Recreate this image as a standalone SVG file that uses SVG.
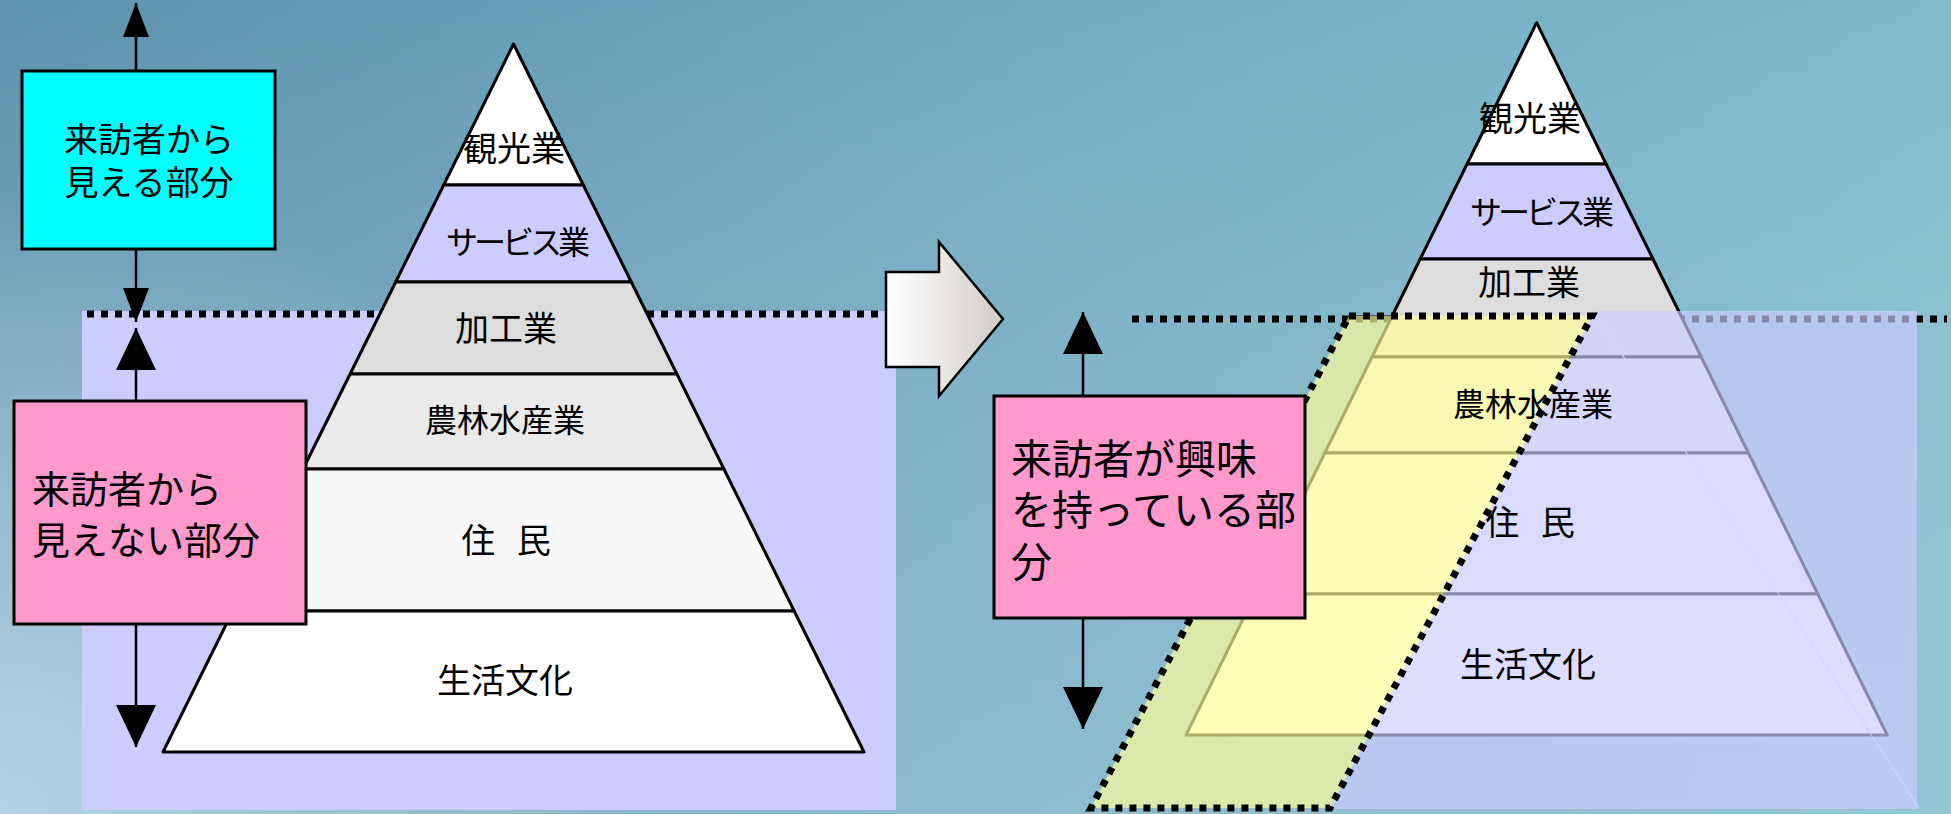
<svg xmlns="http://www.w3.org/2000/svg" width="1951" height="814" viewBox="0 0 1951 814">
<defs>
<linearGradient id="bg" x1="0" y1="0" x2="1951" y2="0" gradientUnits="userSpaceOnUse">
<stop offset="0" stop-color="#5E92AD"/>
<stop offset="0.5" stop-color="#70A8BF"/>
<stop offset="1" stop-color="#7EBACA"/>
</linearGradient>
<linearGradient id="bgv" x1="0" y1="0" x2="0" y2="814" gradientUnits="userSpaceOnUse">
<stop offset="0" stop-color="#ffffff" stop-opacity="0"/>
<stop offset="1" stop-color="#cfe6f2" stop-opacity="0.3"/>
</linearGradient>
<radialGradient id="bgr" cx="0" cy="814" r="650" gradientUnits="userSpaceOnUse">
<stop offset="0" stop-color="#c6e2ef" stop-opacity="0.75"/>
<stop offset="1" stop-color="#c6e2ef" stop-opacity="0"/>
</radialGradient>
<linearGradient id="blk" x1="886" y1="0" x2="1003" y2="0" gradientUnits="userSpaceOnUse">
<stop offset="0" stop-color="#ffffff"/>
<stop offset="0.35" stop-color="#f1efed"/>
<stop offset="1" stop-color="#cfcbc8"/>
</linearGradient>
<marker id="ahS" markerUnits="userSpaceOnUse" markerWidth="34" markerHeight="26" viewBox="0 0 34 26" refX="34" refY="13" orient="auto">
<path d="M0,0 L34,13 L0,26 Z" fill="#000"/>
</marker>
<marker id="ahB" markerUnits="userSpaceOnUse" markerWidth="42" markerHeight="40" viewBox="0 0 42 40" refX="42" refY="20" orient="auto">
<path d="M0,0 L42,20 L0,40 Z" fill="#000"/>
</marker>
</defs>
<style>
.lbl{font-family:"Noto Sans CJK JP","Noto Sans CJK SC",sans-serif;fill:#000;}
.pl{font-size:34px;text-anchor:middle;}
.lay{stroke:#000;stroke-width:3;stroke-linejoin:round;}
.dot{fill:none;stroke:#000;stroke-width:7;stroke-dasharray:7 7;}
.box{stroke:#000;stroke-width:3;}
.conn{stroke:#000;stroke-width:2.5;fill:none;}
</style>

<g id="background">
<rect x="0" y="0" width="1951" height="814" fill="url(#bg)"/>
<rect x="0" y="0" width="1951" height="814" fill="url(#bgv)"/>
<rect x="0" y="0" width="1951" height="814" fill="url(#bgr)"/>
</g>

<!-- LEFT -->
<g id="hidden-zone-left">
<rect x="82" y="311" width="814" height="499" fill="#CCCCFF"/>
<line class="dot" x1="87" y1="314" x2="883" y2="314"/>
</g>

<g id="pyramid-left">
<g id="pl-1"><polygon class="lay" points="513.5,44 583.3,185 443.7,185" fill="#FFFFFF"/><text class="lbl pl" x="514" y="161">観光業</text></g>
<g id="pl-2"><polygon class="lay" points="443.7,185 583.3,185 631.3,282 395.7,282" fill="#CCCCFF"/><text class="lbl pl" x="516" y="254" style="font-size:32px;letter-spacing:-4px">サービス業</text></g>
<g id="pl-3"><polygon class="lay" points="395.7,282 631.3,282 676.9,374 350.1,374" fill="#DDDDDD"/><text class="lbl pl" x="506" y="341">加工業</text></g>
<g id="pl-4"><polygon class="lay" points="350.1,374 676.9,374 723.9,469 303.1,469" fill="#EAEAEA"/><text class="lbl pl" x="505" y="432" style="font-size:32px">農林水産業</text></g>
<g id="pl-5"><polygon class="lay" points="303.1,469 723.9,469 794.2,611 232.8,611" fill="#F8F8F8"/><text class="lbl pl" x="506" y="553" style="word-spacing:14px">住 民</text></g>
<g id="pl-6"><polygon class="lay" points="232.8,611 794.2,611 864,752 163,752" fill="#FFFFFF"/><text class="lbl pl" x="505" y="693">生活文化</text></g>
</g>

<g id="visible-box">
<rect class="box" x="22" y="71" width="253" height="178" fill="#00FFFF"/>
<text class="lbl" x="149" y="152" font-size="34" text-anchor="middle">来訪者から</text>
<text class="lbl" x="149" y="195" font-size="34" text-anchor="middle">見える部分</text>
</g>

<g id="invisible-box">
<rect class="box" x="14" y="401" width="292" height="223" fill="#FF99CC" stroke-width="2.5"/>
<text class="lbl" x="32" y="503" font-size="38">来訪者から</text>
<text class="lbl" x="32" y="554" font-size="38">見えない部分</text>
</g>

<g id="transition-arrow">
<polygon points="886,272 939,272 939,242 1003,319 939,396 939,367 886,367" fill="url(#blk)" stroke="#000" stroke-width="2.5" stroke-linejoin="miter"/>
</g>

<!-- RIGHT -->
<line class="dot" x1="1132" y1="319" x2="1947" y2="319"/>

<g id="pyramid-right">
<polygon class="lay" points="1536.6,22.7 1606.1,164 1467.1,164" fill="#FFFFFF"/>
<polygon class="lay" points="1467.1,164 1606.1,164 1653,259 1420.2,259" fill="#CCCCFF"/>
<polygon class="lay" points="1420.2,259 1653,259 1701.2,357 1372,357" fill="#DDDDDD"/>
<polygon class="lay" points="1372,357 1701.2,357 1748.4,453 1324.8,453" fill="#EAEAEA"/>
<polygon class="lay" points="1324.8,453 1748.4,453 1817.8,594 1255.4,594" fill="#F8F8F8"/>
<polygon class="lay" points="1255.4,594 1817.8,594 1887.2,735 1186,735" fill="#FFFFFF"/>
</g>

<g id="hidden-zone-right">
<polygon points="1595,311 1917,311 1917,809 1329,809" fill="#CCCCFF" fill-opacity="0.67"/>
<line x1="1595" y1="313" x2="1919" y2="808" stroke="#D4D4FF" stroke-width="1.5" stroke-opacity="0.7"/>
</g>

<g id="interest-zone">
<polygon points="1349,316 1592,316 1330,808 1091,808" fill="#FFFF99" fill-opacity="0.68" stroke="#000" stroke-width="7" stroke-dasharray="7 7" stroke-linejoin="miter"/>
</g>

<g id="pyramid-right-labels">
<text class="lbl pl" x="1530" y="131">観光業</text>
<text class="lbl pl" x="1540" y="224" style="font-size:32px;letter-spacing:-4px">サービス業</text>
<text class="lbl pl" x="1529" y="295">加工業</text>
<text class="lbl pl" x="1533" y="416" style="font-size:32px">農林水産業</text>
<text class="lbl pl" x="1530" y="535" style="word-spacing:14px">住 民</text>
<text class="lbl pl" x="1528" y="677">生活文化</text>
</g>

<g id="interest-box">
<rect class="box" x="994" y="396" width="311" height="222" fill="#FF99CC" stroke-width="2.5"/>
<text class="lbl" x="1011" y="474" font-size="41">来訪者が興味</text>
<text class="lbl" x="1011" y="525" font-size="41">を持っている部</text>
<text class="lbl" x="1011" y="577" font-size="41">分</text>
</g>

<g id="connectors">
<line class="conn" x1="136" y1="71" x2="136" y2="3" marker-end="url(#ahS)"/>
<line class="conn" x1="136" y1="249" x2="136" y2="322" marker-end="url(#ahS)"/>
<line class="conn" x1="136" y1="401" x2="136" y2="328" marker-end="url(#ahB)"/>
<line class="conn" x1="136" y1="624" x2="136" y2="747" marker-end="url(#ahB)"/>
<line class="conn" x1="1083" y1="396" x2="1083" y2="312" marker-end="url(#ahB)"/>
<line class="conn" x1="1083" y1="618" x2="1083" y2="729" marker-end="url(#ahB)"/>
</g>
</svg>
